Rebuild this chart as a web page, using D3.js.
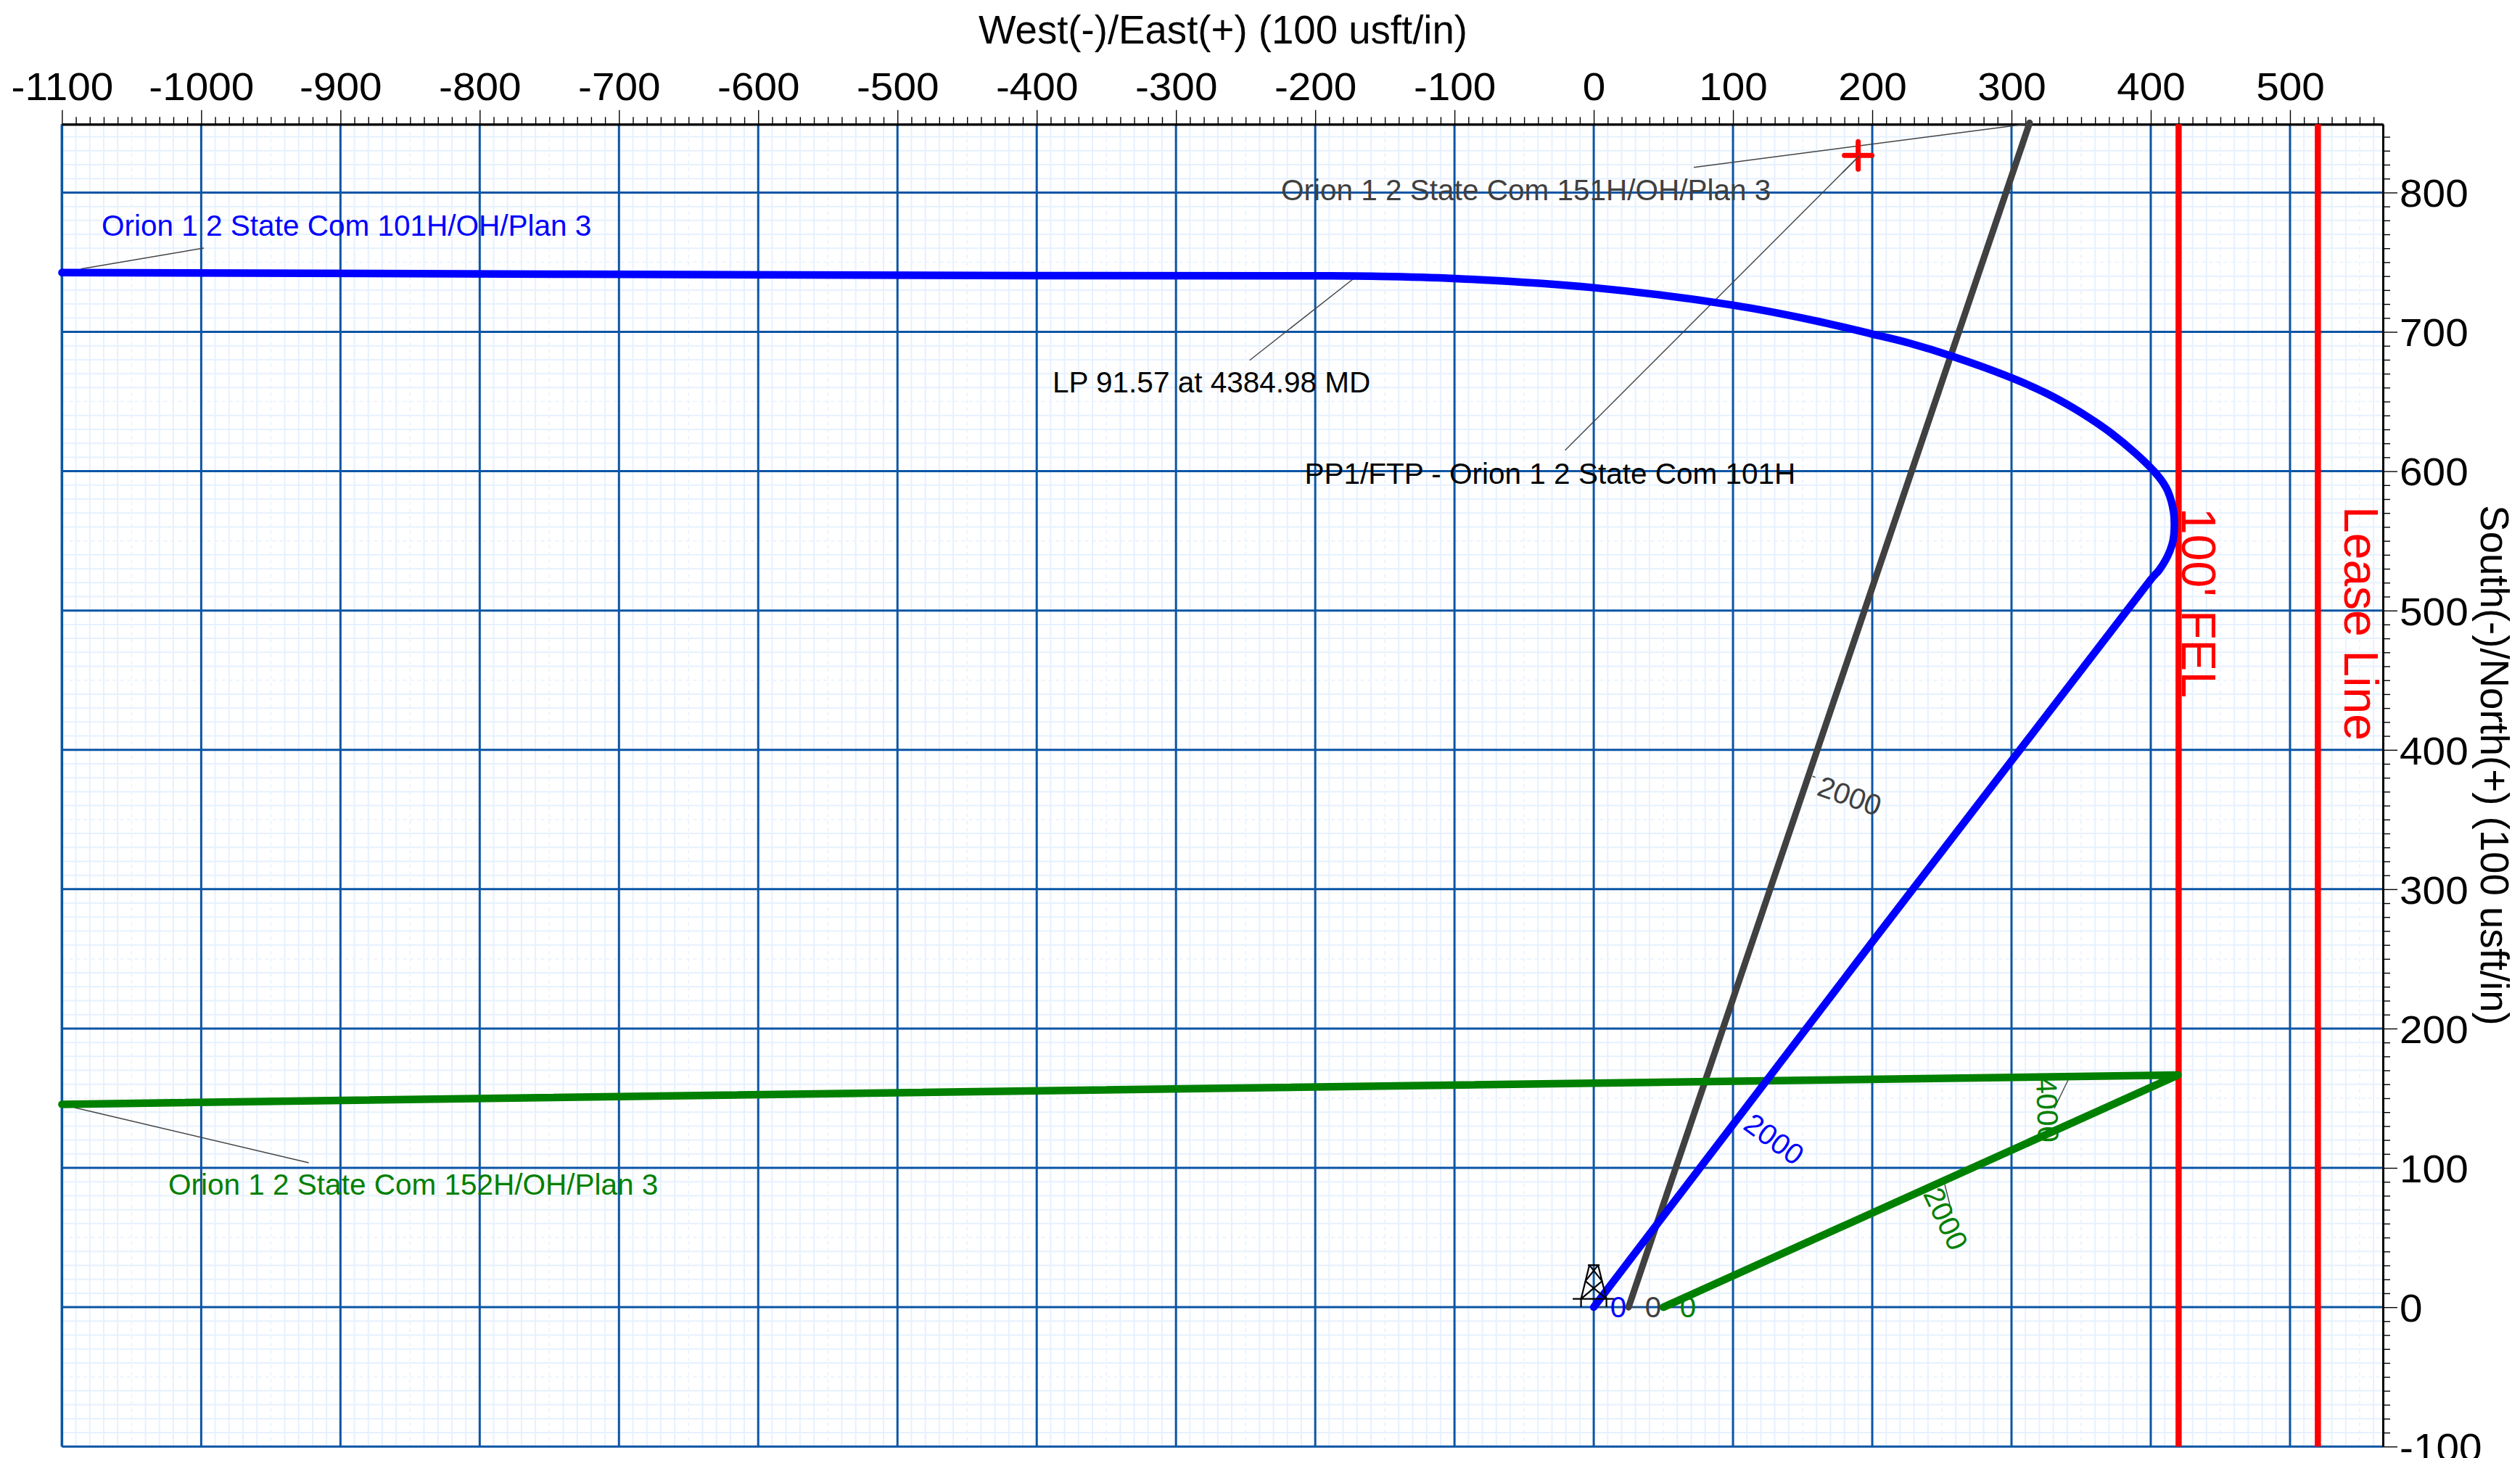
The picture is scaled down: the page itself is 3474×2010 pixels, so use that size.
<html>
<head>
<meta charset="utf-8">
<title>Orion 1 2 State Com plan view</title>
<script src="https://d3js.org/d3.v7.min.js"></script>
<style>
html, body { margin:0; padding:0; background:#fff; overflow:hidden; }
text { font-family:"Liberation Sans", Arial, sans-serif; }
</style>
</head>
<body>
<svg id="chart" width="3474" height="2010"></svg>
<script>
// axis ticks
const xMajor = [-1100,-1000,-900,-800,-700,-600,-500,-400,-300,-200,-100,0,100,200,300,400,500];
const yMajor = [-100,0,100,200,300,400,500,600,700,800];

// wellbores, east and north offsets in usft
const well101East  = [0,400,406,410.5,413.8,416,416.9,416.4,412.4,408,402.3,388.9,372,360,345.1,324.3,300,258.3,227,200.1,157.6,99.8,0,-100,-159.6,-199.7,-400,-1100];
const well101North = [0,522.2,529,536,543,550,558.8,570.7,585.3,593,600,613,627,635.5,645,656.3,667,682.2,691.8,698.4,708.3,719.2,731.7,738.3,739.9,740.2,740.4,742.6];
const well151East  = [25,313];
const well151North = [0,850];
const well152East  = [50,419.5,-1100];
const well152North = [0,166.6,145.6];

// boundaries
const boundaryEast = [420,520];
const boundaryNames = ["100' FEL","Lease Line"];

// target
const targetEast = 189.9, targetNorth = 826.7;

const left = 85.4, right = 3285, top_ = 171.3, bottom = 1994.2;
const xMin = -1100, xMax = 566.7, yMin = -100, yMax = 849;
const gridBlue = "#0b55a5", minorBlue = "#e6f1ff";

const svg = d3.select("#chart");
const x = d3.scaleLinear().domain([xMin,xMax]).range([left,right]);
const y = d3.scaleLinear().domain([yMin,yMax]).range([bottom,top_]);

const xMinor = d3.range(xMin,xMax,10).filter(d => d % 100 != 0);
const yMinor = d3.range(yMin,yMax,10).filter(d => d % 100 != 0);

// minor grid, every 50 is dashed and fainter
const grid = svg.append("g");
grid.selectAll(".vm").data(xMinor).enter().append("line")
  .attr("x1",d => x(d)).attr("x2",d => x(d)).attr("y1",top_).attr("y2",bottom)
  .attr("stroke",minorBlue).attr("stroke-width",d => d % 50 == 0 ? 1.5 : 2)
  .attr("stroke-dasharray",d => d % 50 == 0 ? "5 5" : null);
grid.selectAll(".hm").data(yMinor).enter().append("line")
  .attr("y1",d => y(d)).attr("y2",d => y(d)).attr("x1",left).attr("x2",right)
  .attr("stroke",minorBlue).attr("stroke-width",d => d % 50 == 0 ? 1.5 : 2)
  .attr("stroke-dasharray",d => d % 50 == 0 ? "5 5" : null);
// major grid
grid.selectAll(".vM").data(xMajor).enter().append("line")
  .attr("x1",d => x(d)).attr("x2",d => x(d)).attr("y1",top_).attr("y2",bottom)
  .attr("stroke",gridBlue).attr("stroke-width",3);
grid.selectAll(".hM").data(yMajor).enter().append("line")
  .attr("y1",d => y(d)).attr("y2",d => y(d)).attr("x1",left).attr("x2",right)
  .attr("stroke",gridBlue).attr("stroke-width",3);

// left frame
svg.append("line").attr("x1",x(xMin)).attr("x2",x(xMin)).attr("y1",top_).attr("y2",bottom).attr("stroke",gridBlue).attr("stroke-width",3.5);

// axes
const topAxis = svg.append("g").attr("transform","translate(0,"+top_+")")
  .call(d3.axisTop(x).tickValues(xMajor).tickSize(19.6).tickSizeOuter(0).tickPadding(14).tickFormat(d => String(d)));
svg.append("g").attr("transform","translate(0,"+top_+")")
  .call(d3.axisTop(x).tickValues(xMinor).tickSize(10).tickSizeOuter(0).tickFormat(""));
const rightAxis = svg.append("g").attr("transform","translate("+right+",0)")
  .call(d3.axisRight(y).tickValues(yMajor).tickSize(20).tickSizeOuter(0).tickPadding(3).tickFormat(d => String(d)));
svg.append("g").attr("transform","translate("+right+",0)")
  .call(d3.axisRight(y).tickValues(yMinor).tickSize(10).tickSizeOuter(0).tickFormat(""));
svg.selectAll(".domain").attr("stroke","#000").attr("stroke-width",3);
svg.selectAll(".tick line").attr("stroke","#000").attr("stroke-width",1.4);
// tick numbers in the original are a little wider than they are tall
svg.selectAll(".tick text").attr("fill","#000").attr("transform","scale(1.05,1)")
  .style("font-family",'"Liberation Sans", Arial, sans-serif').style("font-size","54px");
rightAxis.selectAll(".tick text").attr("dy","0.358em").attr("x",22);

svg.append("text").attr("x",1686).attr("y",60).attr("text-anchor","middle")
  .attr("font-size",54.6).text("West(-)/East(+) (100 usft/in)");
svg.append("text").attr("transform","translate(3420,1055) rotate(90)").attr("text-anchor","middle")
  .attr("font-size",54.6).text("South(-)/North(+) (100 usft/in)");

// boundary lines
svg.selectAll(".bound").data(boundaryEast).enter().append("line")
  .attr("x1",d => x(d)).attr("x2",d => x(d)).attr("y1",top_).attr("y2",bottom)
  .attr("stroke","#ff0000").attr("stroke-width",8.5);
svg.selectAll(".boundlab").data(boundaryNames).enter().append("text")
  .attr("transform",(d,i) => "translate("+(x(boundaryEast[i])+ (i==0 ? 5 : 37))+","+(i==0 ? 700 : 698)+") rotate(90)")
  .attr("font-size",66).attr("fill","#ff0000").text(d => d);

// leader lines [x1,y1,x2,y2]
const leaders = [
  [111.6,370.7,281,342],[2335,230.7,2794,171],[2157.6,620.7,2563,215],
  [1722.7,496.7,1870,381],[103,1527,425.7,1603],[2851,1489,2832,1528],[2681,1633,2691,1673],
  [2498.5,1070,2502.7,1071.7],[2204,1802.3,2212,1802.3],[2250.7,1802.3,2259.3,1802.3],[2299,1802.3,2307,1802.3]
];
svg.selectAll(".leader").data(leaders).enter().append("line")
  .attr("x1",d => d[0]).attr("y1",d => d[1]).attr("x2",d => d[2]).attr("y2",d => d[3])
  .attr("stroke","#444").attr("stroke-width",1.4);

// well paths
const line = d3.line().x(d => x(d[0])).y(d => y(d[1]));
function drawWell(east,north,col,w,curve) {
  svg.append("path").datum(d3.zip(east,north)).attr("d",curve ? line.curve(curve) : line)
    .attr("fill","none").attr("stroke",col).attr("stroke-width",w)
    .attr("stroke-linecap","round").attr("stroke-linejoin","round");
}
drawWell(well151East,well151North,"#404040",9);
drawWell(well152East,well152North,"#008000",10.5);
drawWell(well101East,well101North,"#0000ff",10.5,d3.curveCatmullRom.alpha(0.5));

// target marker
svg.append("path")
  .attr("transform","translate("+x(targetEast)+","+y(targetNorth)+")")
  .attr("d","M-19 0H19M0 -19V19").attr("stroke","#ff0000").attr("stroke-width",7)
  .attr("stroke-linecap","round").attr("fill","none");
svg.append("line").attr("x1",2540).attr("y1",238).attr("x2",2563).attr("y2",215).attr("stroke","#444").attr("stroke-width",1.4);

// rig symbol at surface location
const rig = svg.append("g").attr("transform","translate("+x(0)+","+y(0)+")")
  .attr("fill","none").attr("stroke","#000").attr("stroke-width",2.2);
rig.append("path").attr("d","M-29 -11.5H28M-17.5 0V-11.5L-6 -58H6L17.5 -11.5V0M-6 -58L11.5 -36L-17.5 -11.5M6 -58L-11.5 -36L17.5 -11.5M-8 -58H8");

// text labels
const labels = [
  ["Orion 1 2 State Com 101H/OH/Plan 3",140,325,"#0000ff"],
  ["Orion 1 2 State Com 151H/OH/Plan 3",1766,276,"#404040"],
  ["PP1/FTP - Orion 1 2 State Com 101H",1798.5,667,"#000"],
  ["LP 91.57 at 4384.98 MD",1451,541,"#000"],
  ["Orion 1 2 State Com 152H/OH/Plan 3",232,1647,"#008000"]
];
svg.selectAll(".lab").data(labels).enter().append("text")
  .attr("x",d => d[1]).attr("y",d => d[2]).attr("fill",d => d[3]).attr("font-size",40.5).text(d => d[0]);

// measured depth labels [text,cx,cy,angle,colour]
const depths = [
  ["0",2231,1802,0,"#0000ff"],["0",2279,1802,0,"#404040"],["0",2327,1802,0,"#008000"],
  ["2000",2446,1570,36,"#0000ff"],["2000",2550,1097,19.6,"#404040"],
  ["2000",2682.8,1680,64.4,"#008000"],["4000",2823,1530,88,"#008000"]
];
svg.selectAll(".md").data(depths).enter().append("text")
  .attr("transform",d => "translate("+d[1]+","+d[2]+") rotate("+d[3]+")")
  .attr("text-anchor","middle").attr("dy","0.358em").attr("font-size",40.3).attr("fill",d => d[4]).text(d => d[0]);
</script>
</body>
</html>
